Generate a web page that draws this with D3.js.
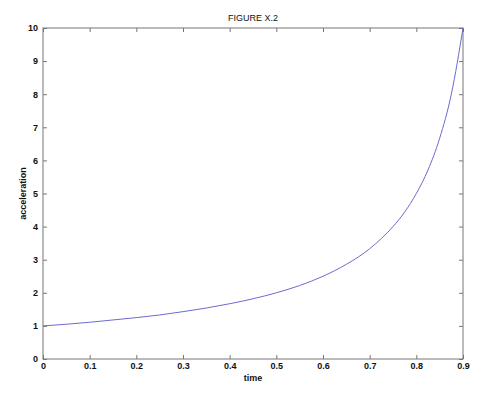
<!DOCTYPE html>
<html lang="en">
<head>
    <meta charset="UTF-8">
    <title>FIGURE X.2</title>
    <script src="https://d3js.org/d3.v7.min.js"></script>
    <style>
        body { margin: 0; background: #fff; }
        text { font-family: "Liberation Sans", Arial, sans-serif; }
    </style>
</head>
<body>
    <script>
        var w = 491;
        var h = 408;

        // values
        var time = [0, 0.05, 0.1, 0.15, 0.2, 0.25, 0.3, 0.35, 0.4, 0.45, 0.5,
                    0.55, 0.6, 0.65, 0.7, 0.725, 0.75, 0.775, 0.8, 0.825, 0.85, 0.875, 0.9];
        var acceleration = [1, 1.05, 1.11, 1.18, 1.25, 1.33, 1.43, 1.54, 1.67, 1.82, 2.0,
                    2.22, 2.5, 2.86, 3.33, 3.64, 4.0, 4.44, 5.0, 5.71, 6.67, 8.0, 10.0];
        var xTicks = [0, 0.1, 0.2, 0.3, 0.4, 0.5, 0.6, 0.7, 0.8, 0.9];
        var yTicks = [0, 1, 2, 3, 4, 5, 6, 7, 8, 9, 10];

        // plot box (note: "top" is reserved on window, so use plotTop)
        var plotLeft = 43, plotRight = 463, plotTop = 28, plotBottom = 359;

        var xScale = d3.scaleLinear().domain([0, 0.9]).range([plotLeft, plotRight]);
        var yScale = d3.scaleLinear().domain([0, 10]).range([plotBottom, plotTop]);

        var svg = d3.select("body")
                .append("svg")
                .attr("width", w)
                .attr("height", h);

        var axisColor = "#777";

        function styleAxis(g, showText) {
            g.select(".domain").remove();
            g.selectAll(".tick line").attr("stroke", axisColor);
            g.selectAll(".tick text")
                .attr("fill", "#111")
                .attr("font-size", "9px")
                .attr("font-weight", "bold")
                .style("display", showText ? null : "none");
        }

        // bottom axis
        svg.append("g")
            .attr("transform", "translate(0," + plotBottom + ")")
            .call(d3.axisBottom(xScale).tickValues(xTicks).tickSize(-4).tickPadding(4)
                .tickFormat(function(d) { return d === 0 ? "0" : d3.format(".1f")(d); }))
            .call(function(g) { styleAxis(g, true); });

        // top axis (ticks only)
        svg.append("g")
            .attr("transform", "translate(0," + plotTop + ")")
            .call(d3.axisTop(xScale).tickValues(xTicks).tickSize(-4))
            .call(function(g) { styleAxis(g, false); });

        // left axis
        svg.append("g")
            .attr("transform", "translate(" + plotLeft + ",0)")
            .call(d3.axisLeft(yScale).tickValues(yTicks).tickSize(-4).tickPadding(5))
            .call(function(g) { styleAxis(g, true); });

        // right axis (ticks only)
        svg.append("g")
            .attr("transform", "translate(" + plotRight + ",0)")
            .call(d3.axisRight(yScale).tickValues(yTicks).tickSize(-4))
            .call(function(g) { styleAxis(g, false); });

        // box
        svg.append("rect")
            .attr("x", plotLeft)
            .attr("y", plotTop)
            .attr("width", plotRight - plotLeft)
            .attr("height", plotBottom - plotTop)
            .attr("fill", "none")
            .attr("stroke", axisColor)
            .attr("stroke-width", 1);

        // curve
        var pts = time.map(function(t, i) { return [t, acceleration[i]]; });
        var line = d3.line()
            .x(function(d) { return xScale(d[0]); })
            .y(function(d) { return yScale(d[1]); })
            .curve(d3.curveMonotoneX);

        svg.append("path")
            .datum(pts)
            .attr("d", line)
            .attr("fill", "none")
            .attr("stroke", "#6b6bd0")
            .attr("stroke-width", 1);

        // labels
        svg.append("text")
            .attr("x", (plotLeft + plotRight) / 2)
            .attr("y", 21)
            .attr("text-anchor", "middle")
            .attr("font-size", "9px")
            .attr("fill", "#111")
            .text("FIGURE X.2");

        svg.append("text")
            .attr("x", (plotLeft + plotRight) / 2)
            .attr("y", 381)
            .attr("text-anchor", "middle")
            .attr("font-size", "9px")
            .attr("font-weight", "bold")
            .attr("fill", "#111")
            .text("time");

        svg.append("text")
            .attr("transform", "translate(26," + ((plotTop + plotBottom) / 2) + ") rotate(-90)")
            .attr("text-anchor", "middle")
            .attr("font-size", "9px")
            .attr("font-weight", "bold")
            .attr("fill", "#111")
            .text("acceleration");
    </script>
</body>
</html>
